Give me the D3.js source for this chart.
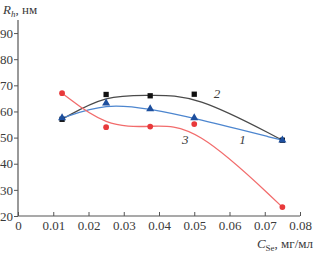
<!DOCTYPE html>
<html>
<head>
<meta charset="utf-8">
<script src="https://cdn.jsdelivr.net/npm/d3@7"></script>
<style>
  body { margin: 0; background: #fff; }
  text { font-family: "Liberation Serif", "DejaVu Serif", serif; fill: #3a3a3a; }
</style>
</head>
<body>
<div id="chart"></div>
<script>
// concentrations of Se, mg/ml
var concentrations = [0.0125, 0.025, 0.0375, 0.05, 0.075];
// hydrodynamic radius, nm
var series1 = [57.5, 63.2, 61, 57.5, 49];
var series2 = [57, 66.5, 66, 66.6, 49];
var series3 = [67, 54, 54.2, 55.2, 23.4];
var xTicks = [0, 0.01, 0.02, 0.03, 0.04, 0.05, 0.06, 0.07, 0.08];
var yTicks = [20, 30, 40, 50, 60, 70, 80, 90];

var width = 314,
    height = 254,
    margin = { left: 18, top: 20, right: 14, bottom: 38 };

var svg = d3.select('#chart').append('svg')
    .attr('width', width)
    .attr('height', height);

var xScale = d3.scaleLinear().domain([0, 0.08]).range([margin.left, width - margin.right]);
var yScale = d3.scaleLinear().domain([20, 95]).range([height - margin.bottom, margin.top]);

// axes
var xAxis = d3.axisBottom(xScale).tickValues(xTicks).tickSize(-4).tickPadding(5)
    .tickFormat(function(d) { return d === 0 ? '0' : d3.format('.2f')(d); });
var yAxis = d3.axisLeft(yScale).tickValues(yTicks).tickSize(4).tickPadding(1);

var gx = svg.append('g')
    .attr('transform', 'translate(0,' + yScale(20) + ')')
    .call(xAxis);
var gy = svg.append('g')
    .attr('transform', 'translate(' + margin.left + ',0)')
    .call(yAxis);

[gx, gy].forEach(function(g) {
    g.select('.domain').attr('stroke', '#555').attr('stroke-width', 1.2);
    g.selectAll('.tick line').attr('stroke', '#555');
    g.selectAll('.tick text').style('font-family', '"Liberation Serif", serif')
        .style('font-size', '13px').attr('fill', '#3a3a3a');
});
gx.select('.domain').attr('d', 'M' + xScale(0) + ',0H' + xScale(0.08));
gy.select('.domain').attr('d', 'M0,' + yScale(95) + 'V' + yScale(20));

// series
var seriesList = [
    { values: series2, line: '#4a4a4a', mark: '#111', shape: d3.symbolSquare, size: 28 },
    { values: series1, line: '#4d86cf', mark: '#1d4f9e', shape: d3.symbolTriangle, size: 28 },
    { values: series3, line: '#f26c6c', mark: '#e8393b', shape: d3.symbolCircle, size: 26 }
];

var line = d3.line()
    .x(function(d, i) { return xScale(concentrations[i]); })
    .y(function(d) { return yScale(d); })
    .curve(d3.curveBasis);

seriesList.forEach(function(s) {
    svg.append('path')
        .attr('d', line(s.values))
        .attr('fill', 'none')
        .attr('stroke', s.line)
        .attr('stroke-width', 1.3);
});

seriesList.forEach(function(s) {
    svg.append('g').selectAll('path')
        .data(s.values)
        .enter().append('path')
        .attr('transform', function(d, i) {
            return 'translate(' + xScale(concentrations[i]) + ',' + yScale(d) + ')';
        })
        .attr('d', d3.symbol().type(s.shape).size(s.size))
        .attr('fill', s.mark);
});

// curve numbers
var curveLabels = [
    { t: '2', x: 0.0555, y: 65.2 },
    { t: '1', x: 0.0628, y: 47.5 },
    { t: '3', x: 0.0465, y: 47.5 }
];
svg.selectAll('.num').data(curveLabels).enter().append('text')
    .attr('x', function(d) { return xScale(d.x); })
    .attr('y', function(d) { return yScale(d.y); })
    .style('font-size', '13px')
    .style('font-style', 'italic')
    .attr('fill', '#333')
    .text(function(d) { return d.t; });

// axis titles
var yTitle = svg.append('text').attr('x', 3).attr('y', 14).style('font-size', '13px');
yTitle.append('tspan').style('font-style', 'italic').text('R');
yTitle.append('tspan').style('font-style', 'italic').style('font-size', '9px').attr('dy', 3).text('h');
yTitle.append('tspan').attr('dy', -3).text(', нм');

var xTitle = svg.append('text').attr('x', width - 1).attr('y', 248)
    .attr('text-anchor', 'end').style('font-size', '13px');
xTitle.append('tspan').style('font-style', 'italic').text('C');
xTitle.append('tspan').style('font-size', '9px').attr('dy', 3).text('Se');
xTitle.append('tspan').attr('dy', -3).text(', мг/мл');
</script>
</body>
</html>
